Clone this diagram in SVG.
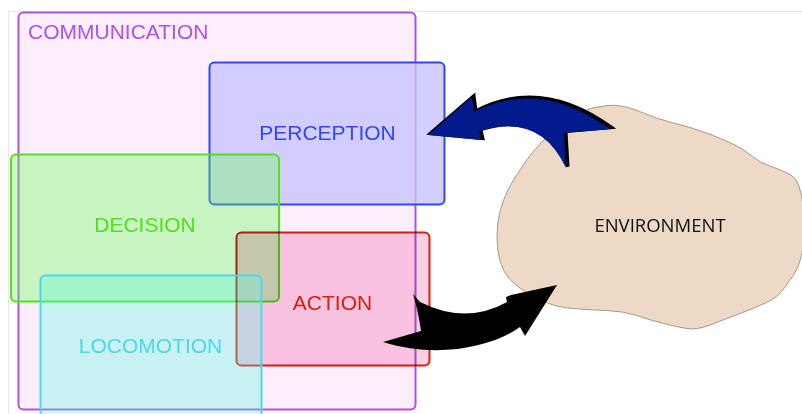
<svg xmlns="http://www.w3.org/2000/svg" width="802" height="414" viewBox="0 0 802 414">
<style>
.lbl{font-family:"Liberation Sans",Arial,sans-serif;font-size:21px;text-anchor:middle}
.box{stroke-width:2}
.page{stroke:#e6e6e6;stroke-width:1;fill:none}
</style>
<rect width="802" height="414" fill="#ffffff"/>
<path class="page" d="M8.5,414 V11.5 H802"/>
<g id="communication">
<rect class="box" x="18.5" y="12.5" width="397" height="397" rx="5" fill="#fdeefd" stroke="#b150e2"/>
<text class="lbl" x="28" y="39" style="text-anchor:start" fill="#b150e2">COMMUNICATION</text>
</g>
<g id="perception">
<rect class="box" x="209.5" y="62.5" width="235" height="142" rx="5" fill="#c8c3ff" fill-opacity="0.8" stroke="#3048f0"/>
<text class="lbl" x="327.5" y="140" fill="#3048f0">PERCEPTION</text>
</g>
<g id="decision">
<rect class="box" x="11" y="154.5" width="268" height="147" rx="5" fill="#64ff50" fill-opacity="0.35" stroke="#50e01c"/>
<text class="lbl" x="145" y="232" fill="#50e01c">DECISION</text>
</g>
<g id="action">
<rect class="box" x="236.5" y="232.5" width="193" height="133" rx="5" fill="#fad0e2" style="mix-blend-mode:multiply" stroke="#d42010"/>
<text class="lbl" x="332.5" y="310" fill="#d42010">ACTION</text>
</g>
<g id="locomotion">
<rect class="box" x="40.5" y="275.5" width="221" height="150" rx="5" fill="#5af8e4" fill-opacity="0.32" stroke="#4cd8e8"/>
<text class="lbl" x="150.5" y="353" fill="#4cd8e8">LOCOMOTION</text>
</g>
<g id="environment">
<path d="M516,176 Q520,170 525,162.5 Q530,155 540,144 Q550,133 560,125 Q570,117 581,112 Q592,107 607,105.5 Q622,104 639.5,111.5 Q657,119 673.5,123 Q690,127 706.5,133 Q723,139 734,144.5 Q745,150 752.5,156.5 Q760,163 771,166.5 Q782,170 791,175 Q800,180 803,205 Q806,230 803,247.5 Q800,265 795,272.5 Q790,280 784,288.5 Q778,297 767.5,302 Q757,307 740,313.5 Q723,320 710,325 Q697,330 687,328.5 Q677,327 663.5,323.5 Q650,320 636.5,315.5 Q623,311 606.5,310.5 Q590,310 573.5,308.5 Q557,307 547.5,303 Q538,299 527.5,293 Q517,287 510,279.5 Q503,272 500,261 Q497,250 497,236.5 Q497,223 500,211.5 Q503,200 507.5,191 Q512,182 516,176 Z" fill="#edd9c6" stroke="#a8988a" stroke-width="1"/>
<text x="660" y="232" font-family="'Open Sans','DejaVu Sans',sans-serif" font-size="18.5" text-anchor="middle" fill="#111111">ENVIRONMENT</text>
</g>
<g id="connectors">
<g id="perceive-arrow">
<path transform="translate(2,-1.5)" d="M428,135 L472,97 L474,112 Q540,78 610,129 L564,133 L566,168 Q540,112 479,131 L481,140 Z" fill="#000000" stroke="#000000" stroke-width="3" stroke-linejoin="miter"/>
<path d="M428,135 L472,97 L474,112 Q540,78 610,129 L564,133 L566,168 Q540,112 479,131 L481,140 Z" fill="#021a8e"/>
</g>
<g id="act-arrow">
<path d="M383,342 L421,331 Q418,310 413,294 L420,302 Q466,325 507,302 L506,297 L511,295 L557,285 L525,336 L520,327 C495,345 440,360 383,342 Z" fill="#000000"/>
</g>
</g>
</svg>
